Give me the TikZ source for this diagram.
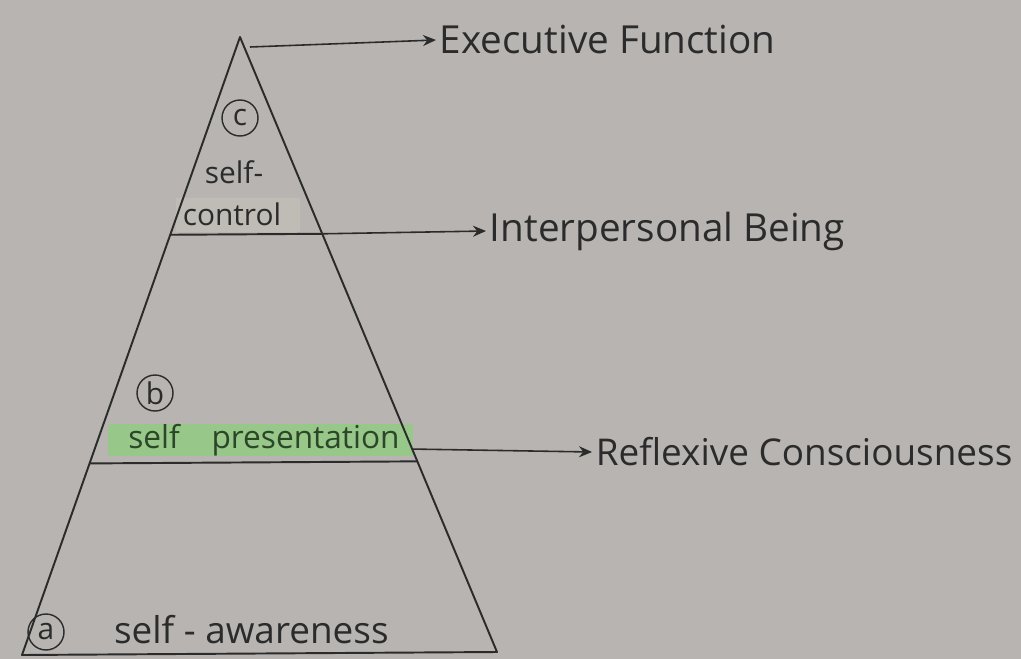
\documentclass[tikz,border=0pt]{standalone}
\usepackage{fontspec}
\setmainfont{Open Sans}
\usetikzlibrary{arrows.meta,positioning,calc}
\definecolor{paper}{HTML}{B7B4B1}
\definecolor{ink}{HTML}{2B2B2B}
\definecolor{marker}{HTML}{98C78A}
\definecolor{markerink}{HTML}{2C4628}
\definecolor{pale}{HTML}{BFBCB6}

\begin{document}
\begin{tikzpicture}[x=0.02cm, y=-0.02cm,
  every node/.style={font=\fontsize{22}{25}\selectfont, text=ink},
  edge/.style={draw=ink, line width=1.1pt, line join=round},
  ar/.style={-{Stealth[length=2.6mm,width=2.2mm]}, draw=ink, line width=0.9pt},
  lbl/.style={anchor=west, inner sep=2pt},
  tag/.style={draw=ink, circle, line width=0.8pt, inner sep=0pt, minimum size=0.72cm,
              font=\fontsize{17}{19}\selectfont},
  tier/.style={inner sep=1pt, font=\fontsize{17}{20}\selectfont}]
\fill[paper] (0,0) rectangle (1021,659);
\useasboundingbox (0,0) rectangle (1021,659);
% pyramid
\coordinate (top) at (240,37);
\coordinate (bl) at (22,655);
\coordinate (br) at (497,652);
\coordinate (l1) at ($(top)!0.32!(bl)$);
\coordinate (r1) at ($(top)!0.32!(br)$);
\coordinate (l2) at ($(top)!0.69!(bl)$);
\coordinate (r2) at ($(top)!0.69!(br)$);
% highlights
\fill[pale] (176,198) rectangle (300,232);
\fill[marker] (108,424) rectangle (413,456);
\draw[edge] (bl) -- (top) -- (br) -- cycle;
\draw[edge] (l1) -- (r1);
\draw[edge] (l2) -- (r2);
% tier texts
\node[tag] (c) at (240,118) {c};
\node[tier] (ctrl1) at (234,172) {self-};
\node[tier] (ctrl2) at (232,214) {control};
\node[tag] (b) at (155,393) {b};
\node[tier, text=markerink, font=\fontsize{18}{20}\selectfont] (pres) at (264,440) {self\quad presentation};
\node[tag] (a) at (46,632) {a};
\node[tier, font=\fontsize{21}{24}\selectfont, anchor=west] (aware) at (112,630) {self - awareness};
% labels
\coordinate (e1) at (250,47);
\coordinate (e2) at ($(top)!0.32!(br)$);
\coordinate (e3) at ($(top)!0.67!(br)$);
\node[lbl] (exec) at (436,40) {Executive Function};
\node[lbl] (inter) at (486,231) {Interpersonal Being};
\node[lbl, font=\fontsize{21}{24}\selectfont] (refl) at (592,452) {Reflexive Consciousness};
\draw[ar] (e1) -- (exec.west);
\draw[ar] (e2) -- (inter.west);
\draw[ar] (e3) -- (refl.west);
\end{tikzpicture}
\end{document}
